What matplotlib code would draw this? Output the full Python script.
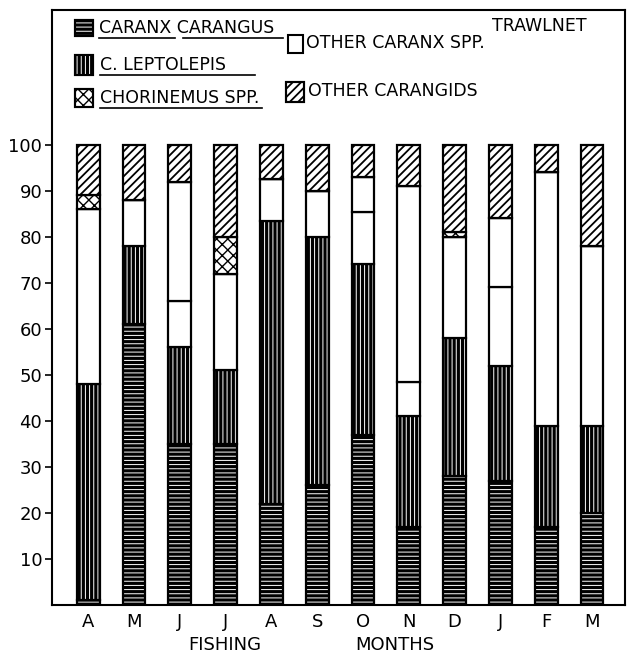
import matplotlib
matplotlib.use('Agg')
import matplotlib.pyplot as plt
from matplotlib.patches import Rectangle
import numpy as np

''' Data read off the chart (percent of catch, stacked bottom to top) '''
months = ['A', 'M', 'J', 'J', 'A', 'S', 'O', 'N', 'D', 'J', 'F', 'M']
caranx_carangus = [1, 61, 35, 35, 22, 26, 37, 17, 28, 27, 17, 20]
c_leptolepis = [47, 17, 21, 16, 61.5, 54, 37, 24, 30, 25, 22, 19]
other_caranx_lower = [38, 10, 10, 21, 9, 10, 11.5, 7.5, 22, 17, 55, 39]
other_caranx_upper = [0, 0, 26, 0, 0, 0, 7.5, 42.5, 0, 15, 0, 0]
chorinemus = [3, 0, 0, 8, 0, 0, 0, 0, 1, 0, 0, 0]
other_carangids = [11, 12, 8, 20, 7.5, 10, 7, 9, 19, 16, 6, 22]
yticks = [10, 20, 30, 40, 50, 60, 70, 80, 90, 100]

plt.rcParams['font.family'] = 'DejaVu Sans'

W, H = 627, 655
fig = plt.figure(figsize=(W / 100, H / 100), dpi=100)
ax = fig.add_axes([52 / W, 1 - 605 / H, (625 - 52) / W, (605 - 10) / H])

x = np.arange(len(months))
bw = 0.5

# Segment styles: (face, hatch, hatch colour, hatch linewidth)
styles = {
    'carangus': ('black', '----', 'white', 0.7),
    'leptolepis': ('black', '||||', 'white', 0.7),
    'other_caranx': ('white', None, None, 1.0),
    'chorinemus': ('white', 'xxx', 'black', 1.0),
    'other_carangids': ('white', '////', 'black', 1.3),
}


def draw_segment(values, bottom, style):
    face, hatch, hcol, hlw = styles[style]
    ax.bar(x, values, bw, bottom=bottom, color=face, linewidth=0)
    if hatch:
        with plt.rc_context({'hatch.linewidth': hlw}):
            ax.bar(x, values, bw, bottom=bottom, facecolor='none',
                   edgecolor=hcol, hatch=hatch, linewidth=0)
    ax.bar(x, values, bw, bottom=bottom, facecolor='none',
           edgecolor='black', linewidth=1.6)


series = [
    (caranx_carangus, 'carangus'),
    (c_leptolepis, 'leptolepis'),
    (other_caranx_lower, 'other_caranx'),
    (other_caranx_upper, 'other_caranx'),
    (chorinemus, 'chorinemus'),
    (other_carangids, 'other_carangids'),
]
bottom = np.zeros(len(months))
for vals, style in series:
    vals = np.array(vals, dtype=float)
    draw_segment(vals, bottom, style)
    bottom += vals

ax.set_xlim(-0.79, 11.72)
ax.set_ylim(0, 129.3)
ax.set_yticks(yticks)
ax.set_yticklabels([str(t) for t in yticks], fontsize=13)
ax.set_xticks(x)
ax.set_xticklabels(months, fontsize=13)
ax.tick_params(axis='x', length=0, pad=6)
ax.tick_params(axis='y', length=5, width=1.2, pad=2)
for s in ax.spines.values():
    s.set_linewidth(1.5)

fig.text(225 / W, 1 - 645 / H, 'FISHING', ha='center', va='center', fontsize=13)
fig.text(395 / W, 1 - 645 / H, 'MONTHS', ha='center', va='center', fontsize=13)


''' Hand-drawn style legend, placed in pixel units '''
def px_box(x0, y0, w, h, style):
    face, hatch, hcol, hlw = styles[style]
    xy = (x0 / W, 1 - (y0 + h) / H)
    fig.add_artist(Rectangle(xy, w / W, h / H, transform=fig.transFigure,
                             facecolor=face, edgecolor='black', linewidth=1.5))
    if hatch:
        with plt.rc_context({'hatch.linewidth': hlw}):
            fig.add_artist(Rectangle(xy, w / W, h / H, transform=fig.transFigure,
                                     facecolor='none', edgecolor=hcol, hatch=hatch,
                                     linewidth=0))
        fig.add_artist(Rectangle(xy, w / W, h / H, transform=fig.transFigure,
                                 facecolor='none', edgecolor='black', linewidth=1.5))


def px_text(x0, y0, s, underline=None):
    fig.text(x0 / W, 1 - y0 / H, s, ha='left', va='center', fontsize=12.5)
    if underline:
        for ux0, ux1 in underline:
            fig.add_artist(plt.Line2D([ux0 / W, ux1 / W], [1 - (y0 + 10) / H] * 2,
                                      transform=fig.transFigure, color='black', lw=1.2))


px_box(75, 20, 18, 16, 'carangus')
px_text(99, 28, 'CARANX CARANGUS', underline=[(99, 175), (183, 283)])
px_box(288, 35, 15, 18, 'other_caranx')
px_text(306, 43, 'OTHER CARANX SPP.')
px_box(75, 55, 18, 20, 'leptolepis')
px_text(100, 65, 'C. LEPTOLEPIS', underline=[(100, 255)])
px_box(75, 89, 18, 18, 'chorinemus')
px_text(100, 98, 'CHORINEMUS SPP.', underline=[(100, 262)])
px_box(286, 82, 18, 20, 'other_carangids')
px_text(308, 91, 'OTHER CARANGIDS')
px_text(492, 26, 'TRAWLNET')

fig.savefig('out.png', dpi=100)
